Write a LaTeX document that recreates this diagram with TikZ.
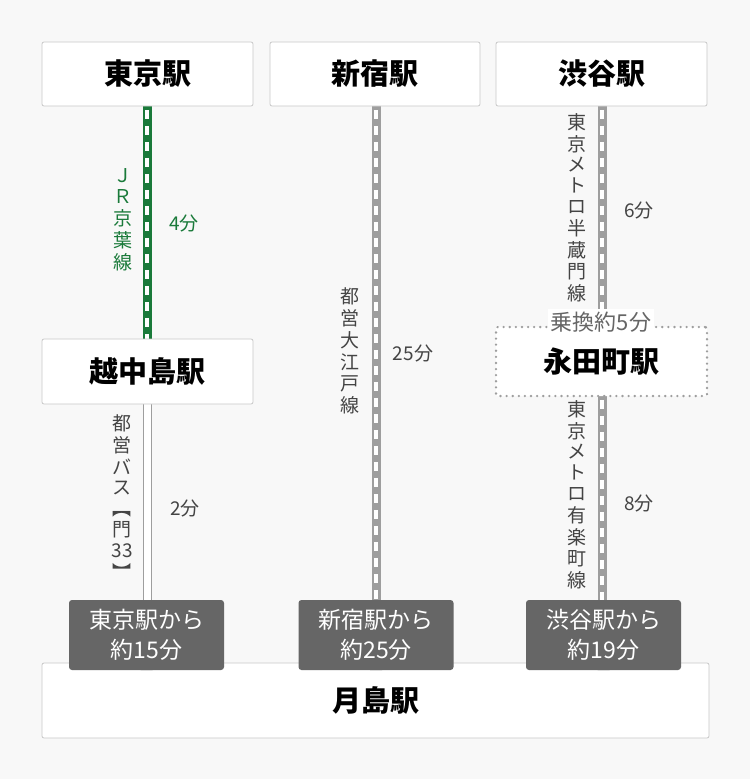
\documentclass[tikz,border=0pt]{standalone}
\usepackage{fontspec}
\setmainfont{Noto Sans CJK JP}
\usetikzlibrary{shapes.geometric}
\definecolor{bg}{HTML}{F8F8F8}
\definecolor{bd}{HTML}{C8C8C8}
\definecolor{jr}{HTML}{1A7A3A}
\definecolor{ln}{HTML}{9E9E9E}
\definecolor{tx}{HTML}{444444}
\definecolor{cb}{HTML}{666666}
\newcommand{\vt}[1]{\begin{tabular}{@{}c@{}}#1\end{tabular}}
\tikzset{
 stbox/.style={draw=bd,fill=white,rounded corners=2pt,line width=0.8pt,font=\fontsize{29}{32}\selectfont\bfseries},
 lbl/.style={text=tx,font=\fontsize{19}{20.5}\selectfont,inner sep=0pt},
 callout/.style={fill=cb,rounded corners=3pt,text=white,font=\fontsize{23}{30}\selectfont,align=center,minimum width=155pt,minimum height=70pt,inner sep=0pt},
}
\begin{document}
\begin{tikzpicture}[x=1pt,y=-1pt]
\fill[bg] (0,0) rectangle (750,779);
\useasboundingbox (0,0) rectangle (750,779);
% lines (under boxes)
\coordinate (l1t) at (147,106); \coordinate (l1b) at (147,339);
\draw[jr,line width=9pt] (l1t) -- (l1b);
\draw[white,line width=4pt,dash pattern=on 9pt off 7pt,dash phase=-4pt] (l1t) -- (l1b);
\coordinate (b1t) at (147,404); \coordinate (b1b) at (147,600);
\draw[ln,line width=9pt] (b1t) -- (b1b);
\draw[white,line width=7pt] (b1t) -- (b1b);
\coordinate (l2t) at (376,106); \coordinate (l2b) at (376,600);
\draw[ln,line width=9pt] (l2t) -- (l2b);
\draw[white,line width=4pt,dash pattern=on 9pt off 7pt,dash phase=-4pt] (l2t) -- (l2b);
\coordinate (l3t) at (602,106); \coordinate (l3m) at (602,313);
\draw[ln,line width=9pt] (l3t) -- (l3m);
\draw[white,line width=4pt,dash pattern=on 9pt off 7pt,dash phase=-4pt] (l3t) -- (l3m);
\coordinate (l4t) at (602,396); \coordinate (l4b) at (602,600);
\draw[ln,line width=9pt] (l4t) -- (l4b);
\draw[white,line width=4pt,dash pattern=on 9pt off 7pt,dash phase=-4pt] (l4t) -- (l4b);
% station boxes
\node[stbox,minimum width=211pt,minimum height=64pt] (tokyo) at (147.5,74) {東京駅};
\node[stbox,minimum width=210pt,minimum height=64pt] (shinjuku) at (375,74) {新宿駅};
\node[stbox,minimum width=211pt,minimum height=64pt] (shibuya) at (601.5,74) {渋谷駅};
\node[stbox,minimum width=211pt,minimum height=65pt] (koshi) at (147.5,371.5) {越中島駅};
\node[stbox,minimum width=667pt,minimum height=75pt] (tsuki) at (375.5,700.5) {月島駅};
\node[stbox,draw=ln,dash pattern=on 0.1pt off 6pt,line cap=round,line width=2.5pt,minimum width=211pt,minimum height=69pt] (naga) at (601.5,361.5) {永田町駅};
\node[fill=white,text=cb,font=\fontsize{22}{24}\selectfont,inner sep=3pt] (trans) at (601,322) {乗換約5分};
% labels
\node[lbl,text=jr,anchor=east] (jrl) at (133,222) {\vt{Ｊ\\Ｒ\\京\\葉\\線}};
\node[lbl,text=jr] (t1) at (184,223) {4分};
\node[lbl,anchor=east] (bus) at (133,500) {\vt{都\\営\\バ\\ス\\︻\\門\\33\\︼}};
\node[lbl] (t2) at (185,508) {2分};
\node[lbl,anchor=east] (oedo) at (360,353) {\vt{都\\営\\大\\江\\戸\\線}};
\node[lbl] (t3) at (413,353) {25分};
\node[lbl,anchor=east] (hanzo) at (587,210) {\vt{東\\京\\メ\\ト\\ロ\\半\\蔵\\門\\線}};
\node[lbl] (t4) at (639,210) {6分};
\node[lbl,anchor=east] (yura) at (587,497) {\vt{東\\京\\メ\\ト\\ロ\\有\\楽\\町\\線}};
\node[lbl] (t5) at (639,503) {8分};
% callouts
\foreach \n/\x/\t in {c1/146.5/{東京駅から\\約15分},c2/376/{新宿駅から\\約25分},c3/603.5/{渋谷駅から\\約19分}}{
  \node[callout] (\n) at (\x,635) {\t};
  \fill[cb] ([xshift=-6pt]\n.south) -- ([xshift=6pt]\n.south) -- ([yshift=6pt]\n.south) -- cycle;
}
\end{tikzpicture}
\end{document}
